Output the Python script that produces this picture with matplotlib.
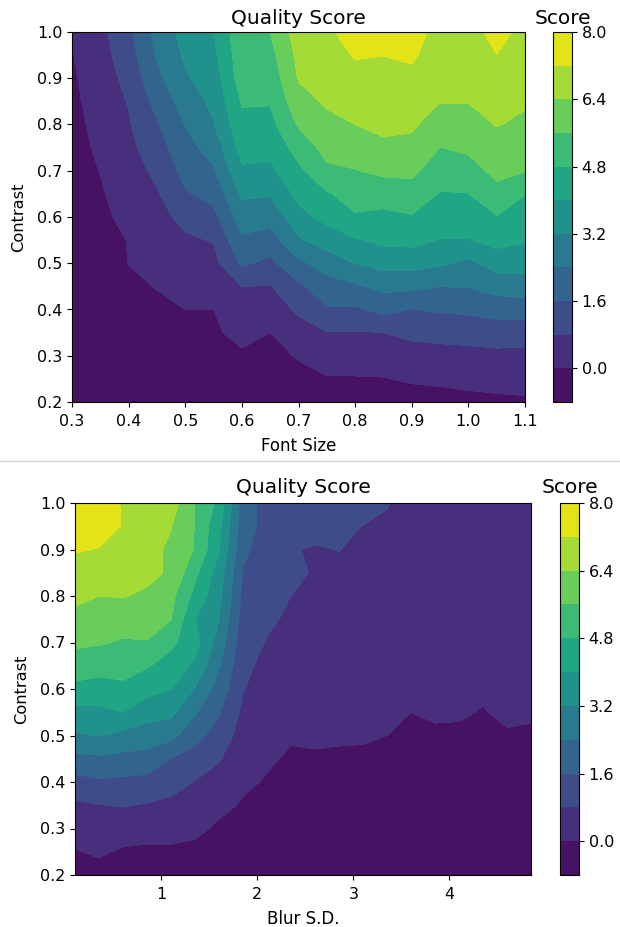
import numpy as np
import matplotlib
matplotlib.use('Agg')
import matplotlib.pyplot as plt
from matplotlib.lines import Line2D

# Grid of the two contour plots
contrast = [0.2, 0.25, 0.3, 0.35, 0.4, 0.45, 0.5, 0.55, 0.6, 0.65, 0.7, 0.75, 0.8, 0.85, 0.9, 0.95, 1.0]
font_size = [0.3, 0.35, 0.4, 0.45, 0.5, 0.55, 0.6, 0.65, 0.7, 0.75, 0.8, 0.85, 0.9, 0.95, 1.0, 1.05, 1.1]
blur_sd = [0.1, 0.35, 0.6, 0.85, 1.1, 1.35, 1.6, 1.85, 2.1, 2.35, 2.6, 2.85, 3.1, 3.35, 3.6, 3.85, 4.1, 4.35, 4.6, 4.85]

# Contour levels and colorbar ticks
levels = [-0.8, 0.0, 0.8, 1.6, 2.4, 3.2, 4.0, 4.8, 5.6, 6.4, 7.2, 8.0]
cbar_ticks = [0.0, 1.6, 3.2, 4.8, 6.4, 8.0]

# Scores per font size (one row for each font size, contrast going up)
font_scores = [
    [-.5, -.5, -.5, -.5, -.5, -.5, -.45, -.45, -.4, -.4, -.35, -.25, -.2, -.15, -.1, -.03, .02],
    [-.45, -.45, -.4, -.4, -.4, -.4, -.4, -.3, -.2, -.08, .02, .12, .2, .3, .38, .48, .58],
    [-.45, -.4, -.35, -.3, -.2, -.1, .01, .03, .25, .35, .45, .6, .72, .85, 1.05, 1.25, 1.44],
    [-.4, -.35, -.3, -.2, -.1, .02, .2, .4, .55, .72, .97, 1.25, 1.52, 1.85, 2.2, 2.47, 2.67],
    [-.4, -.35, -.25, -.12, 0.0, .22, .45, .68, 1.02, 1.52, 1.85, 2.13, 2.43, 2.76, 3.1, 3.32, 3.5],
    [-.4, -.3, -.2, -.1, 0.0, .27, .55, .85, 1.37, 1.85, 2.3, 2.73, 3.16, 3.38, 3.6, 3.8, 4.0],
    [-.4, -.25, -.1, .2, .5, .81, 1.73, 2.28, 2.8, 3.33, 3.9, 4.27, 4.6, 4.87, 5.2, 5.3, 5.4],
    [-.4, -.3, -.15, 0.0, .38, .76, 1.4, 2.05, 2.67, 3.28, 3.83, 4.23, 4.55, 4.86, 5.1, 5.35, 5.6],
    [-.3, -.15, .04, .47, .93, 1.45, 2.23, 3.1, 3.74, 4.22, 4.62, 5.12, 5.68, 6.13, 6.45, 6.6, 6.8],
    [-.3, -.05, .33, .77, 1.52, 2.08, 2.75, 3.57, 4.23, 4.72, 5.45, 5.87, 6.2, 6.5, 6.7, 6.88, 7.12],
    [-.3, -.05, .35, .75, 1.48, 2.29, 3.22, 3.93, 4.71, 5.16, 5.57, 5.98, 6.4, 6.7, 7.0, 7.25, 7.4],
    [-.3, -.03, .37, .8, 1.84, 2.6, 3.5, 4.17, 4.6, 5.16, 5.76, 6.26, 6.56, 6.78, 7.0, 7.21, 7.6],
    [-.3, .08, .5, .97, 1.57, 2.6, 3.5, 4.22, 4.74, 5.27, 5.78, 6.19, 6.52, 6.78, 7.04, 7.3, 7.5],
    [-.3, .15, .55, 1.03, 1.7, 2.41, 3.31, 3.97, 4.37, 4.75, 5.17, 5.59, 6.01, 6.43, 6.68, 6.85, 6.95],
    [-.2, .2, .58, 1.08, 1.76, 2.44, 3.03, 3.97, 4.38, 4.78, 5.29, 5.74, 6.08, 6.43, 6.6, 6.7, 6.85],
    [-.15, .25, .62, 1.17, 1.93, 2.72, 3.55, 4.26, 4.76, 5.37, 5.8, 6.12, 6.43, 6.68, 6.94, 7.19, 7.5],
    [-.1, .27, .6, 1.12, 2.0, 2.8, 3.5, 4.06, 4.48, 4.82, 5.64, 5.96, 6.28, 6.47, 6.59, 6.77, 6.95],
]

# Scores per blur level
blur_scores = [
    [-.4, -.05, .3, .66, 1.3, 2.2, 3.1, 3.77, 4.6, 5.2, 5.74, 6.19, 6.58, 6.92, 7.25, 7.5, 7.8],
    [-.3, .11, .44, .77, 1.5, 2.25, 3.23, 3.81, 4.47, 5.1, 5.67, 6.04, 6.4, 6.78, 7.18, 7.4, 7.6],
    [-.4, -.1, .37, .84, 1.43, 2.17, 2.98, 4.0, 4.62, 5.1, 5.52, 5.97, 6.44, 6.7, 6.95, 7.18, 7.14],
    [-.4, -.15, .3, .74, 1.35, 2.1, 2.81, 3.53, 4.25, 4.87, 5.56, 5.92, 6.27, 6.6, 6.7, 6.8, 6.9],
    [-.5, -.12, .26, .63, 1.08, 1.58, 2.64, 3.41, 4.02, 4.46, 4.97, 5.62, 5.83, 6.3, 6.25, 6.43, 6.8],
    [-.5, -.2, .17, .47, .77, 1.3, 1.85, 2.48, 3.17, 3.85, 4.3, 4.02, 4.55, 5.0, 5.55, 5.57, 5.58],
    [-.5, -.35, -.12, .18, .5, .86, 1.26, 1.66, 2.07, 2.47, 2.84, 3.21, 3.42, 3.62, 4.05, 4.2, 4.6],
    [-.6, -.45, -.25, -.07, .11, .29, .47, .65, .83, .97, 1.12, 1.26, 1.41, 1.55, 1.75, 1.9, 2.0],
    [-.6, -.5, -.4, -.2, -.05, .08, .2, .33, .46, .6, .76, .9, 1.05, 1.15, 1.25, 1.35, 1.3],
    [-.6, -.55, -.45, -.35, -.2, -.08, .06, .18, .32, .45, .58, .7, .8, .95, .83, 1.1, 1.25],
    [-.6, -.55, -.45, -.35, -.2, -.05, .07, .18, .28, .38, .47, .55, .62, .74, .76, .96, 1.2],
    [-.6, -.55, -.45, -.35, -.2, -.06, .05, .14, .23, .32, .41, .5, .58, .72, .81, .9, 1.15],
    [-.6, -.55, -.5, -.4, -.25, -.08, .05, .13, .22, .3, .38, .46, .53, .6, .68, .79, 1.03],
    [-.6, -.55, -.5, -.4, -.3, -.15, 0.0, .1, .18, .26, .34, .42, .48, .55, .63, .72, .83],
    [-.65, -.6, -.55, -.5, -.4, -.28, -.14, 0.0, .1, .18, .25, .3, .35, .4, .45, .52, .6],
    [-.65, -.6, -.55, -.5, -.4, -.25, -.08, .07, .15, .2, .25, .3, .35, .38, .42, .46, .5],
    [-.65, -.6, -.55, -.5, -.4, -.25, -.09, .06, .14, .2, .24, .28, .32, .36, .4, .44, .48],
    [-.65, -.6, -.55, -.5, -.42, -.32, -.18, -.03, .08, .14, .2, .25, .3, .34, .38, .42, .46],
    [-.65, -.6, -.55, -.5, -.4, -.22, -.05, .1, .16, .2, .24, .28, .32, .36, .4, .44, .48],
    [-.65, -.6, -.55, -.5, -.4, -.25, -.08, .07, .14, .18, .22, .26, .3, .34, .38, .42, .46],
]

W, H = 620, 927
fig = plt.figure(figsize=(W / 100, H / 100), dpi=100)


def panel(box, cbox, x, scores, xlabel, xticks, title_pad):
    left, top, right, bottom = box
    ax = fig.add_axes([left / W, 1 - bottom / H, (right - left) / W, (bottom - top) / H])
    cs = ax.contourf(x, contrast, np.array(scores).T, levels=levels, cmap='viridis')
    ax.set_title('Quality Score', fontsize=14.5, pad=title_pad)
    ax.set_xlabel(xlabel, fontsize=12, labelpad=6)
    ax.set_ylabel('Contrast', fontsize=11.7, labelpad=7.5)
    ax.set_xticks(xticks)
    ax.set_yticks([0.2, 0.3, 0.4, 0.5, 0.6, 0.7, 0.8, 0.9, 1.0])
    ax.tick_params(labelsize=11.5)
    ax.tick_params(axis='x', pad=5)

    cleft, cright = cbox
    cax = fig.add_axes([cleft / W, 1 - bottom / H, (cright - cleft) / W, (bottom - top) / H])
    cbar = fig.colorbar(cs, cax=cax, ticks=cbar_ticks)
    cbar.ax.tick_params(labelsize=11.5)
    cbar.ax.set_title('Score', fontsize=14.5, pad=title_pad)
    return ax


panel((72, 32, 525, 402), (553, 572), font_size, font_scores, 'Font Size',
      [0.3, 0.4, 0.5, 0.6, 0.7, 0.8, 0.9, 1.0, 1.1], 6)
panel((75, 503, 531, 875), (560, 579), blur_sd, blur_scores, 'Blur S.D.', [1, 2, 3, 4], 7)

# Thin rule between the two panels
fig.add_artist(Line2D([0, 1], [1 - 461 / H, 1 - 461 / H], color='#d4d4d4', lw=1))

fig.savefig('out.png', dpi=100)
